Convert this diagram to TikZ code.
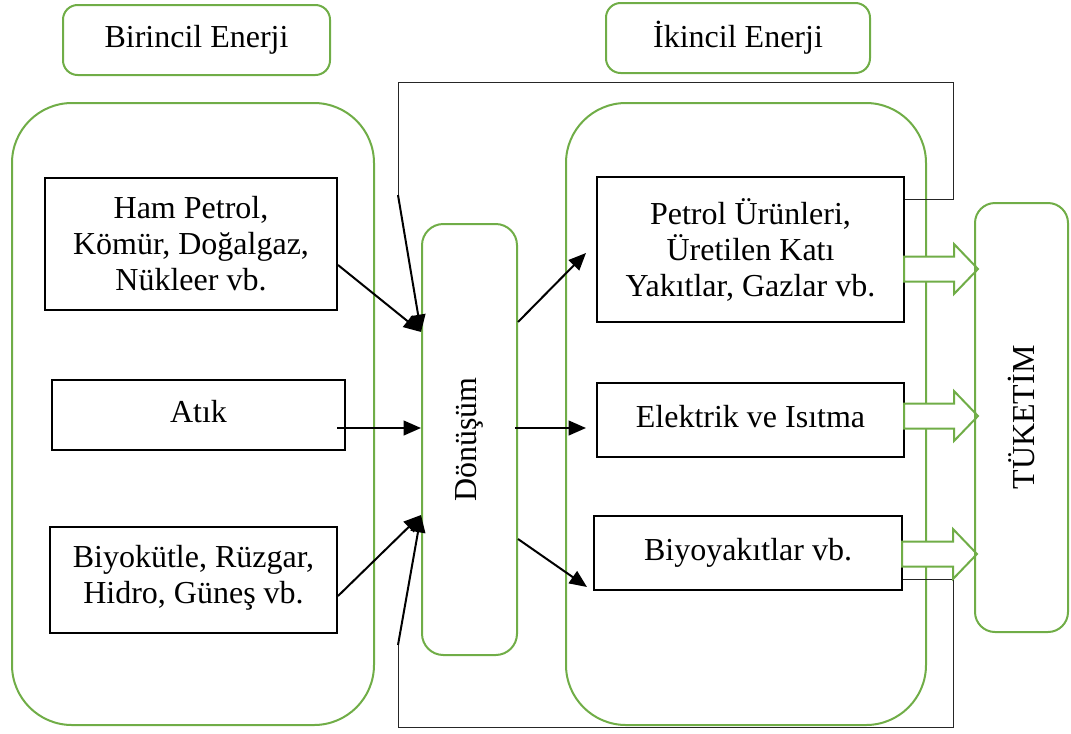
\documentclass[tikz,border=0pt]{standalone}
\usepackage{fontspec}
\setmainfont{Liberation Serif}
\usetikzlibrary{arrows.meta,calc}
\definecolor{gr}{HTML}{70AD47}
\begin{document}
\begin{tikzpicture}[x=0.75pt,y=-0.75pt,
  font=\fontsize{24}{27}\selectfont,
  gbox/.style={draw=gr,line width=1.5pt,rounded corners=#1,inner sep=0pt,align=center},
  bbox/.style={draw=black,line width=1.5pt,inner sep=0pt,align=center},
  arr/.style={line width=1.5pt,-{Triangle[length=13pt,width=11pt]}},
  fbline/.style={draw=black!85,line width=0.75pt},
  barrow/.style={draw=gr,fill=white,line width=1.5pt},
]
\useasboundingbox (0,0) rectangle (1071,733);

% headers
\node[gbox=11pt, minimum width=200.25pt, minimum height=52.5pt] (prim) at (196.5,40) {Birincil Enerji};
\node[gbox=11pt, minimum width=198pt, minimum height=52.5pt] (sec) at (738,38) {İkincil Enerji};

% big containers
\node[gbox=45pt, minimum width=271.5pt, minimum height=466.5pt] (lbig) at (193,414) {};
\node[gbox=45pt, minimum width=270pt, minimum height=466.5pt] (rbig) at (746,414) {};

% primary boxes
\node[bbox, minimum width=219pt, minimum height=99pt] (ham) at (191,244) {Ham Petrol,\\Kömür, Doğalgaz,\\Nükleer vb.};
\node[bbox, minimum width=219.75pt, minimum height=52.5pt] (atik) at (198.5,415) {Atık\strut};
\node[bbox, minimum width=215.25pt, minimum height=79.5pt] (bk) at (193.5,580) {Biyokütle, Rüzgar,\\Hidro, Güneş vb.\strut};

% conversion
\node[gbox=16pt, rotate=90, minimum width=323.25pt, minimum height=71.25pt] (don) at (469.5,439.5) {Dönüşüm};

% secondary boxes
\node[bbox, minimum width=230.25pt, minimum height=108.75pt] (pet) at (750.5,249.5) {Petrol Ürünleri,\\Üretilen Katı\\Yakıtlar, Gazlar vb.};
\node[bbox, minimum width=230.25pt, minimum height=55.5pt] (ele) at (750.5,420) {Elektrik ve Isıtma\strut};
\node[bbox, minimum width=231pt, minimum height=55.5pt] (bio) at (748,553) {Biyoyakıtlar vb.\strut};

% feedback loops
\draw[fbline] (pet.east |- 0,199) -- (953,199) -- (953,82) -- (398,82) -- (398,195) coordinate (ft);
\draw[fbline] (bio.east |- 0,579) -- (953,579) -- (953,727) -- (398,727) -- (398,645) coordinate (fb);

% arrows into conversion
\draw[arr] (ham.east |- 0,265) -- (don.north |- 0,332);
\draw[arr] (ft) -- (don.north |- 0,332);
\draw[arr] ($(atik.east |- 0,428)+(-9,0)$) -- (don.north |- 0,428);
\draw[arr] (bk.east |- 0,596) -- (don.north |- 0,515);
\draw[arr] (fb) -- (don.north |- 0,515);

% arrows out of conversion
\draw[arr] (don.south |- 0,322) -- ($(pet.west |- 0,253)+(-10,0)$);
\draw[arr] ($(don.south |- 0,428)+(-3,0)$) -- ($(ele.west |- 0,428)+(-10,0)$);
\draw[arr] (don.south |- 0,539) -- ($(bio.west |- 0,587)+(-6,0)$);

% block arrows to consumption
\draw[barrow] ($(pet.east |- 0,269)+(-1,-12.5)$) -- ++(50,0) -- ++(0,-12.5) -- ++(24,25) -- ++(-24,25) -- ++(0,-12.5) -- ++(-50,0) -- cycle;
\draw[barrow] ($(ele.east |- 0,416)+(-1,-12.5)$) -- ++(50,0) -- ++(0,-12.5) -- ++(24,25) -- ++(-24,25) -- ++(0,-12.5) -- ++(-50,0) -- cycle;
\draw[barrow] ($(bio.east |- 0,554)+(-1,-12.5)$) -- ++(51,0) -- ++(0,-12.5) -- ++(24,25) -- ++(-24,25) -- ++(0,-12.5) -- ++(-51,0) -- cycle;

% consumption
\node[gbox=15pt, rotate=90, minimum width=321.75pt, minimum height=69.75pt] (tuk) at (1021.5,417.5) {TÜKETİM};
\end{tikzpicture}
\end{document}
